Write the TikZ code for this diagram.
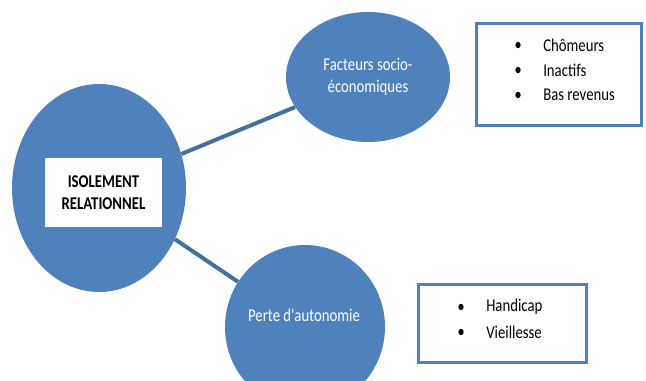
\documentclass[tikz,border=0pt]{standalone}
\usepackage{fontspec}
\setmainfont{Carlito}
\usepackage{graphicx}
\usepackage{xcolor}
\usepackage{tikz}
\usetikzlibrary{shapes.geometric}

\definecolor{bubblefill}{HTML}{4F81BD}
\definecolor{linkcol}{HTML}{41719C}
\newcommand{\sq}[1]{\scalebox{0.82}[1]{#1}}

\tikzset{
    bubble/.style={ellipse, fill=bubblefill, inner sep=0},
    listbox/.style={draw=bubblefill, line width=2.25pt, fill=white, inner sep=0},
    titlebox/.style={fill=white, inner sep=0, align=center, font=\fontsize{13.5}{17}\selectfont\bfseries},
    item/.style={anchor=west, inner sep=0},
    dot/.style={ellipse, fill=black, inner sep=0, minimum width=4pt, minimum height=4.8pt},
    link/.style={draw=linkcol, line width=3pt}
}

\begin{document}
\begin{tikzpicture}[x=0.75pt, y=-0.75pt, font=\fontsize{13.5}{16.5}\selectfont]
        \useasboundingbox (0,0) rectangle (646,381);
        \clip (0,0) rectangle (646,381);

        % bubbles
        \node[bubble, minimum width=130.5pt, minimum height=156pt] (iso) at (99,188) {};
        \node[bubble, minimum width=123pt, minimum height=97.5pt, text=white, align=center] (socio) at (368,77) {\sq{Facteurs socio-}\\\sq{économiques}};
        \node[bubble, minimum width=120pt, minimum height=123pt] (autonomie) at (305,327) {};
        \node[text=white, inner sep=0] (autonomietxt) at (304,315) {\sq{Perte d\textquotesingle autonomie}};

        % title
        \node[titlebox, minimum width=87.75pt, minimum height=51.75pt] (title) at (103.5,192.5) {\sq{ISOLEMENT}\\\sq{RELATIONNEL}};

        % lines
        \draw[link] (iso) -- (socio);
        \draw[link] (iso) -- (autonomie);

        % lists
        \node[listbox, minimum width=123.75pt, minimum height=76.5pt] (socbox) at (559,74.5) {};
        \node[listbox, minimum width=126pt, minimum height=58.5pt] (autbox) at (502.5,323.5) {};

        \foreach \j/\t in {0/Chômeurs,1/Inactifs,2/Bas revenus}
        {
            \node[dot] (socdot\j) at (518,{45+25*\j}) {};
            \node[item] (soc\j) at (543,{45+25*\j}) {\sq{\t}};
        }
        \foreach \j/\t in {0/Handicap,1/Vieillesse}
        {
            \node[dot] (autdot\j) at (461,{307+25*\j}) {};
            \node[item] (aut\j) at (486,{307+25*\j}) {\sq{\t}};
        }
\end{tikzpicture}
\end{document}
